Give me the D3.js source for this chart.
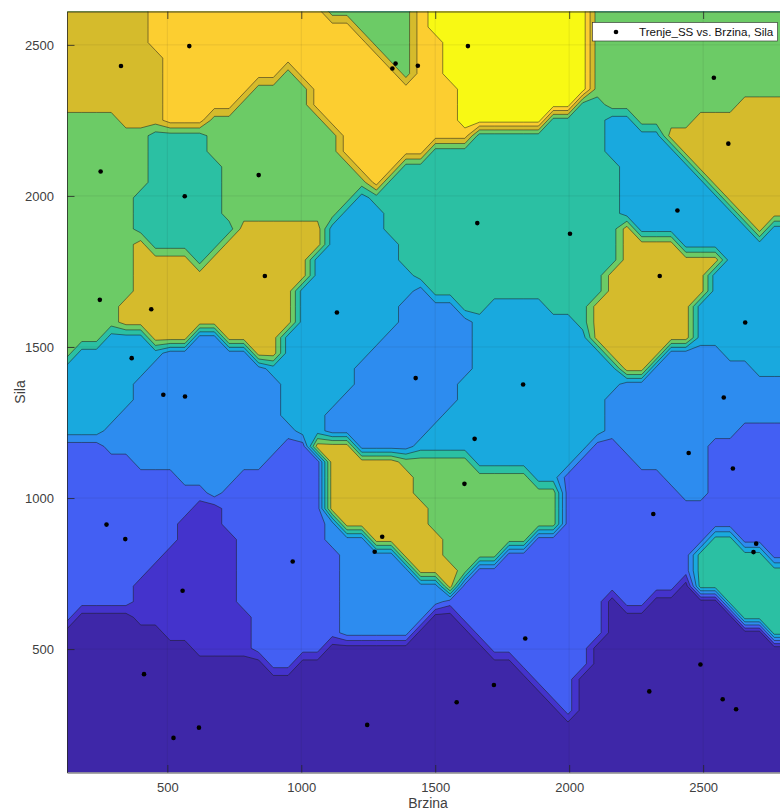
<!DOCTYPE html>
<html><head><meta charset="utf-8">
<script src="https://cdn.jsdelivr.net/npm/d3@7"></script>
<style>
body{margin:0;background:#fff}
svg{display:block}
text{font-family:"Liberation Sans",Arial,Helvetica,sans-serif}
</style>
</head><body>
<svg id="chart" width="780" height="812"></svg>
<script>
// ---- data ----
const brzina = [327, 582, 251, 565, 841, 1340, 1352, 1435, 1622, 1657, 2540, 2594, 2404, 2003, 248, 440, 864, 367, 485, 566, 1133, 1427, 1828, 1647, 1609, 2338, 2657, 2577, 2446, 2611, 2314, 273, 343, 968, 557, 413, 618, 523, 1302, 1274, 1836, 1719, 1580, 1246, 2698, 2688, 2490, 2299, 2573, 2623];
const sila = [2430, 2496, 2081, 1999, 2069, 2422, 2438, 2431, 2496, 1910, 2391, 2173, 1952, 1875, 1656, 1625, 1735, 1463, 1342, 1336, 1614, 1397, 1376, 1196, 1047, 1735, 1581, 1333, 1149, 1098, 947, 912, 864, 790, 693, 417, 240, 206, 872, 822, 535, 381, 324, 249, 849, 821, 449, 360, 334, 301];
// Trenje_SS, in contour-level units (estimated from fill colours)
const trenje = [7.5, 8.5, 6.5, 5.5, 6.5, 8.5, 6.5, 8.5, 9.5, 5.5, 6.5, 7.5, 4.5, 5.5, 6.5, 7.5, 7.5, 4.5, 3.5, 3.5, 4.5, 3.5, 4.5, 4.5, 6.5, 7.5, 4.5, 3.5, 3.5, 2.5, 2.5, 2.5, 2.5, 2.5, 1.5, 0.5, 0.5, 0.5, 7.5, 3.5, 2.5, 0.5, 0.5, 0.5, 2.5, 5.5, 0.5, 0.5, 0.5, 0.5];
const levels = [1, 2, 3, 4, 5, 6, 7, 8, 9];
const xTicks = [500, 1000, 1500, 2000, 2500];
const yTicks = [500, 1000, 1500, 2000, 2500];
const xLabel = "Brzina";
const yLabel = "Sila";
const legendLabel = "Trenje_SS vs. Brzina, Sila";

// ---- styles ----
const levelColors = ["#3e27a8", "#4433cc", "#435ff3", "#2d8cef", "#19a9de", "#2bc0a3", "#6ccb66", "#d5bb2c", "#fcce30", "#f8f914"];
const axisColor = "#262626";

const svg = d3.select("#chart");
const L = 67, R = 789, T = 11.5, B = 772.5;

const xMinD = d3.min(brzina), xMaxD = d3.max(brzina);
const yMinD = d3.min(sila), yMaxD = d3.max(sila);
const x0 = xMinD - 0.05 * (xMaxD - xMinD), x1 = xMaxD + 0.05 * (xMaxD - xMinD);
const y0 = yMinD - 0.05 * (yMaxD - yMinD), y1 = yMaxD + 0.05 * (yMaxD - yMinD);

const x = d3.scaleLinear().domain([x0, x1]).range([L, R]);
const y = d3.scaleLinear().domain([y0, y1]).range([B, T]);

// gridded (nearest neighbour) surface, like griddata(...,'nearest')
const N = 50;
const dx = (x1 - x0) / (N - 1), dy = (y1 - y0) / (N - 1);
const grid = new Array(N * N);
for (let j = 0; j < N; j++) {
  const gy = y0 + j * dy;
  for (let i = 0; i < N; i++) {
    const gx = x0 + i * dx;
    let best = 0, bd = Infinity;
    for (let k = 0; k < brzina.length; k++) {
      const d = (brzina[k] - gx) ** 2 + (sila[k] - gy) ** 2;
      if (d < bd) { bd = d; best = k; }
    }
    grid[j * N + i] = trenje[best];
  }
}
const contours = d3.contours().size([N, N]).thresholds(levels)(grid);
const proj = d3.geoTransform({
  point(px, py) { this.stream.point(x(x0 + (px - 0.5) * dx), y(y0 + (py - 0.5) * dy)); }
});
const path = d3.geoPath(proj);

svg.append("defs").append("clipPath").attr("id", "clip")
  .append("rect").attr("x", L).attr("y", T).attr("width", R - L).attr("height", B - T);

const plot = svg.append("g").attr("clip-path", "url(#clip)");
plot.append("rect").attr("x", L).attr("y", T).attr("width", R - L).attr("height", B - T)
  .attr("fill", levelColors[0]);

plot.append("g").selectAll("path").data(contours).join("path")
  .attr("d", path)
  .attr("fill", (d, i) => levelColors[i + 1]);
plot.append("g").selectAll("path").data(contours).join("path")
  .attr("d", path)
  .attr("fill", "none")
  .attr("stroke", "#1c1c1c")
  .attr("stroke-opacity", 0.75)
  .attr("stroke-width", 0.7);

// grid lines
plot.append("g").selectAll("line").data(xTicks).join("line")
  .attr("x1", d => x(d)).attr("x2", d => x(d)).attr("y1", T).attr("y2", B)
  .attr("stroke", axisColor).attr("stroke-opacity", 0.15).attr("stroke-width", 0.6);
plot.append("g").selectAll("line").data(yTicks).join("line")
  .attr("y1", d => y(d)).attr("y2", d => y(d)).attr("x1", L).attr("x2", R)
  .attr("stroke", axisColor).attr("stroke-opacity", 0.15).attr("stroke-width", 0.6);

// points
plot.append("g").selectAll("circle").data(brzina).join("circle")
  .attr("cx", d => x(d)).attr("cy", (d, i) => y(sila[i])).attr("r", 2.3).attr("fill", "#000");

// axes
const tickLen = 7.5;
const ax = svg.append("g").attr("font-size", 13).attr("fill", "#404040");
const xAxisB = d3.axisBottom(x).tickValues(xTicks).tickSizeInner(-tickLen).tickSizeOuter(0).tickPadding(10).tickFormat(d3.format("d"));
const xAxisT = d3.axisTop(x).tickValues(xTicks).tickSizeInner(-tickLen).tickSizeOuter(0).tickFormat("");
const yAxisL = d3.axisLeft(y).tickValues(yTicks).tickSizeInner(-tickLen).tickSizeOuter(0).tickPadding(13).tickFormat(d3.format("d"));
const yAxisR = d3.axisRight(y).tickValues(yTicks).tickSizeInner(-tickLen).tickSizeOuter(0).tickFormat("");

function style(g) {
  g.select(".domain").attr("stroke", axisColor).attr("stroke-width", 0.8);
  g.selectAll(".tick line").attr("stroke", axisColor).attr("stroke-width", 0.8);
  g.selectAll(".tick text").attr("fill", "#404040").attr("font-size", 13)
    .attr("font-family", '"Liberation Sans", Arial, Helvetica, sans-serif');
}
svg.append("g").attr("transform", `translate(0,${B})`).call(xAxisB).call(style);
svg.append("g").attr("transform", `translate(0,${T})`).call(xAxisT).call(style);
svg.append("g").attr("transform", `translate(${L},0)`).call(yAxisL).call(style);
svg.append("g").attr("transform", `translate(${R},0)`).call(yAxisR).call(style);

svg.append("text").attr("x", (L + R) / 2).attr("y", 808).attr("text-anchor", "middle")
  .attr("font-size", 14).attr("fill", "#404040").text(xLabel);
svg.append("text").attr("transform", `translate(25,${(T + B) / 2}) rotate(-90)`).attr("text-anchor", "middle")
  .attr("font-size", 14).attr("fill", "#404040").text(yLabel);

// legend
const lg = svg.append("g");
lg.append("rect").attr("x", 592.5).attr("y", 22.5).attr("width", 185).attr("height", 18.5)
  .attr("fill", "#fff").attr("stroke", axisColor).attr("stroke-width", 0.6);
lg.append("circle").attr("cx", 616).attr("cy", 32).attr("r", 2.3).attr("fill", "#000");
lg.append("text").attr("x", 639).attr("y", 36.3).attr("font-size", 11.6).attr("fill", "#111").text(legendLabel);
</script>
</body></html>
